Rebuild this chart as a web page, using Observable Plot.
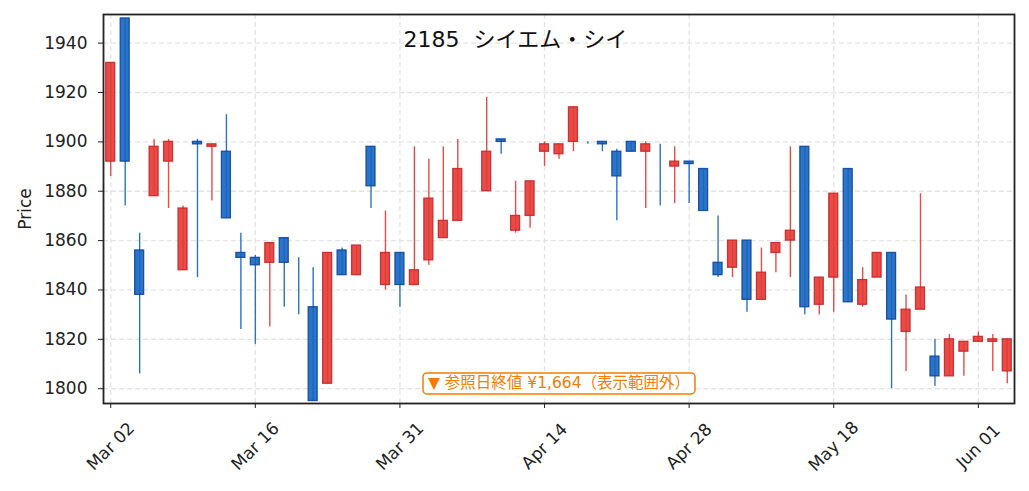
<!DOCTYPE html>
<html>
<head>
<meta charset="utf-8">
<script src="https://cdn.jsdelivr.net/npm/d3@7"></script>
<script src="https://cdn.jsdelivr.net/npm/@observablehq/plot@0.6"></script>
<style>
  body { margin: 0; background: #fff; }
  #chart svg { display: block; }
</style>
</head>
<body>
<div id="chart"></div>
<script>
// ---- data ----
const dates = [
  "2026-03-02","2026-03-03","2026-03-04","2026-03-05","2026-03-06",
  "2026-03-09","2026-03-10","2026-03-11","2026-03-12","2026-03-13",
  "2026-03-16","2026-03-17","2026-03-18","2026-03-19","2026-03-23",
  "2026-03-24","2026-03-25","2026-03-26","2026-03-27","2026-03-30",
  "2026-03-31","2026-04-01","2026-04-02","2026-04-03","2026-04-06",
  "2026-04-07","2026-04-08","2026-04-09","2026-04-10","2026-04-13",
  "2026-04-14","2026-04-15","2026-04-16","2026-04-17","2026-04-20",
  "2026-04-21","2026-04-22","2026-04-23","2026-04-24","2026-04-27",
  "2026-04-28","2026-04-30","2026-05-01","2026-05-07","2026-05-08",
  "2026-05-11","2026-05-12","2026-05-13","2026-05-14","2026-05-15",
  "2026-05-18","2026-05-19","2026-05-20","2026-05-21","2026-05-22",
  "2026-05-25","2026-05-26","2026-05-27","2026-05-28","2026-05-29",
  "2026-06-01","2026-06-02","2026-06-03"
];
const open  = [1892,1950,1856,1878,1892, 1848,1900,1898,1896,1855, 1853,1851,1861,1843,1833, 1802,1856,1846,1898,1842,
               1855,1842,1852,1861,1868, 1875,1880,1901,1864,1870, 1896,1895,1900,1900,1900, 1896,1900,1896,1899,1890,
               1892,1889,1851,1849,1860, 1836,1855,1860,1898,1834, 1845,1889,1834,1845,1855, 1823,1832,1813,1805,1815,
               1819,1819,1807];
const high  = [1932,1950,1863,1901,1901, 1874,1901,1899,1911,1863, 1854,1859,1861,1853,1849, 1855,1857,1858,1898,1872,
               1855,1898,1893,1898,1901, 1875,1918,1901,1884,1884, 1900,1899,1914,1900,1900, 1897,1900,1900,1899,1898,
               1892,1889,1870,1860,1860, 1857,1859,1898,1898,1845, 1879,1889,1849,1855,1855, 1838,1879,1820,1822,1819,
               1823,1822,1820];
const low   = [1886,1874,1806,1878,1873, 1848,1845,1876,1869,1824, 1818,1825,1833,1830,1795, 1802,1846,1846,1873,1840,
               1833,1842,1850,1861,1868, 1875,1880,1895,1863,1865, 1890,1893,1896,1899,1896, 1868,1896,1873,1874,1875,
               1875,1872,1845,1845,1831, 1836,1847,1845,1830,1830, 1831,1835,1833,1845,1800, 1807,1832,1801,1805,1805,
               1819,1807,1802];
const close = [1932,1892,1838,1898,1900, 1873,1899,1899,1869,1853, 1850,1859,1851,1843,1795, 1855,1846,1858,1882,1855,
               1842,1848,1877,1868,1889, 1875,1896,1900,1870,1884, 1899,1899,1914,1900,1899, 1886,1896,1899,1899,1892,
               1891,1872,1846,1860,1836, 1847,1859,1864,1833,1845, 1879,1835,1844,1855,1828, 1832,1841,1805,1820,1819,
               1821,1820,1820];
const tickDates = ["2026-03-02","2026-03-16","2026-03-31","2026-04-14","2026-04-28","2026-05-18","2026-06-01"];
const yTicks = [1800,1820,1840,1860,1880,1900,1920,1940];
const titleText = "2185  シイエム・シイ";
const noteText = "▼ 参照日終値 ¥1,664（表示範囲外）";
const yLabel = "Price";

// ---- styles ----
const UP_FILL = "#e53935", DOWN_FILL = "#1565c0";
const UP_EDGE = "#c62828", DOWN_EDGE = "#0d47a1";
const NOTE = "#f57c00";
const FONT = "'DejaVu Sans','Noto Sans CJK JP',sans-serif";

const rows = dates.map((d, i) => ({date: d, open: open[i], high: high[i], low: low[i], close: close[i]}));
const isUp = d => d.close > d.open;
const fmt = d3.utcFormat("%b %d");
const grid = {stroke: "#e3e3e3", strokeOpacity: 1, strokeWidth: 1.3, strokeDasharray: "5,3"};

const chart = Plot.plot({
  width: 1029,
  height: 491,
  marginLeft: 103,
  marginRight: 15,
  marginTop: 14,
  marginBottom: 88,
  style: {fontFamily: FONT, fontSize: "17px", color: "#222", background: "#fff"},
  x: {type: "band", domain: dates, paddingInner: 0.38, paddingOuter: 0.19, round: false},
  y: {domain: [1794, 1951.6]},
  marks: [
    Plot.gridY(yTicks, grid),
    Plot.gridX(tickDates, grid),
    Plot.ruleX(rows, {x: "date", y1: "low", y2: "high",
      stroke: d => isUp(d) ? UP_FILL : DOWN_FILL, strokeOpacity: 0.9, strokeWidth: 1.4}),
    Plot.barY(rows, {x: "date", y1: "open", y2: "close",
      fill: d => isUp(d) ? UP_FILL : DOWN_FILL, fillOpacity: 0.9,
      stroke: d => isUp(d) ? UP_EDGE : DOWN_EDGE, strokeOpacity: 0.9, strokeWidth: 1.3}),
    Plot.axisY(yTicks, {tickSize: 5, tickPadding: 11, tickFormat: "d", label: null, fontSize: 17}),
    Plot.axisX(tickDates, {tickSize: 5, tickFormat: () => "", label: null}),
    Plot.text(tickDates, {x: d => d, text: d => fmt(new Date(d)), frameAnchor: "bottom", dy: 43,
      rotate: -45, textAnchor: "middle", lineAnchor: "middle", fontSize: 17, fill: "#222"}),
    Plot.frame({stroke: "#222", strokeWidth: 1.8}),
    Plot.text([titleText], {frameAnchor: "top-left", dx: 300, dy: 25, textAnchor: "start",
      lineAnchor: "middle", fontSize: 22, fill: "#111"}),
    Plot.text([noteText], {frameAnchor: "bottom", dy: -20, textAnchor: "middle",
      lineAnchor: "middle", fontSize: 15.5, fill: NOTE}),
    Plot.text([yLabel], {frameAnchor: "left", dx: -78, rotate: -90, textAnchor: "middle",
      lineAnchor: "middle", fontSize: 17, fill: "#222"})
  ]
});

document.getElementById("chart").append(chart);

// rounded box behind the annotation text
const noteEl = [...chart.querySelectorAll("text")].find(e => e.textContent.includes("参照日"));
if (noteEl) {
  const bb = noteEl.getBBox();
  const r = document.createElementNS("http://www.w3.org/2000/svg", "rect");
  r.setAttribute("x", bb.x - 5);
  r.setAttribute("y", bb.y - 1.5);
  r.setAttribute("width", bb.width + 10);
  r.setAttribute("height", bb.height + 3);
  r.setAttribute("rx", 4);
  r.setAttribute("fill", "#fff");
  r.setAttribute("fill-opacity", 0.9);
  r.setAttribute("stroke", NOTE);
  r.setAttribute("stroke-width", 1.5);
  if (noteEl.getAttribute("transform")) r.setAttribute("transform", noteEl.getAttribute("transform"));
  noteEl.parentNode.insertBefore(r, noteEl);
}
</script>
</body>
</html>
